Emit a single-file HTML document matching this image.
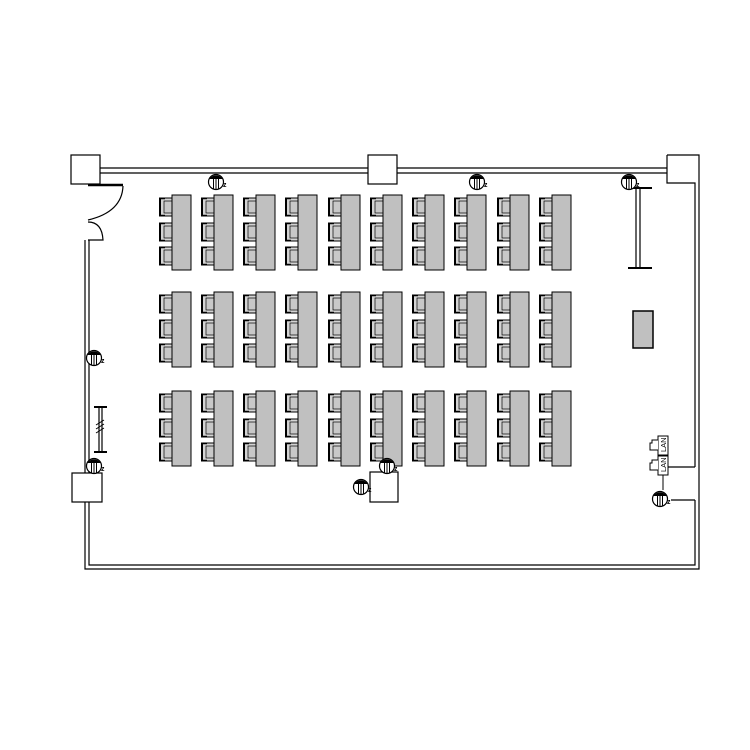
<!DOCTYPE html>
<html><head><meta charset="utf-8"><style>html,body{margin:0;padding:0;background:#fff}svg{display:block}</style></head>
<body>
<svg width="750" height="750" viewBox="0 0 750 750" xmlns="http://www.w3.org/2000/svg">
<defs>
<g id="ch">
<rect x="0.5" y="0" width="12.5" height="18" fill="#d4d4d4" stroke="#000" stroke-width="1"/>
<rect x="0" y="0" width="2" height="18" fill="#000"/>
<line x1="0" y1="0.5" x2="6" y2="0.5" stroke="#000" stroke-width="1.5"/>
<line x1="0" y1="17.5" x2="6" y2="17.5" stroke="#000" stroke-width="1.5"/>
<rect x="5" y="3" width="8" height="12" fill="#c8c8c8" stroke="#000" stroke-width="0.7"/>
</g>
<g id="dk">
<use href="#ch" x="-13" y="3"/>
<use href="#ch" x="-13" y="28"/>
<use href="#ch" x="-13" y="52"/>
<rect x="0" y="0" width="19" height="75" fill="#c0c0c0" stroke="#000" stroke-width="1"/>
</g>
<g id="fx">
<circle cx="0" cy="0" r="7.5" fill="#fff" stroke="#000" stroke-width="1.2"/>
<path d="M-6.5,-3 A7.5,7.5 0 0 1 6.5,-3 Z" fill="#000"/>
<line x1="-2.5" y1="-3" x2="-2.5" y2="6.5" stroke="#000"/>
<line x1="0" y1="-3" x2="0" y2="7.5" stroke="#000"/>
<line x1="2.5" y1="-3" x2="2.5" y2="6.5" stroke="#000"/>
<text x="7" y="5" font-family="Liberation Sans, sans-serif" font-size="7" font-weight="bold">z</text>
</g>
</defs>
<g fill="none" stroke="#000" stroke-width="1.2">
<line x1="100" y1="168" x2="368" y2="168"/><line x1="100" y1="173" x2="368" y2="173"/>
<line x1="397" y1="168" x2="667" y2="168"/><line x1="397" y1="173" x2="667" y2="173"/>
<rect x="71" y="155" width="29" height="29"/>
<rect x="368" y="155" width="29" height="29"/>
<path d="M667,155 H699 V565"/>
<path d="M667,155 V183 H695 V467"/>
<path d="M695,500 V565 H89 V502"/>
<path d="M699,565 V569 H85 V502"/>
<rect x="72" y="473" width="30" height="29"/>
<line x1="85" y1="240" x2="85" y2="473"/><line x1="89" y1="240" x2="89" y2="473"/>
<line x1="88" y1="185" x2="123" y2="185" stroke-width="2.5"/>
<path d="M123,186 Q122,212 88,220"/>
<path d="M88,222 Q102,222 103,240 H88"/>
<line x1="636" y1="188" x2="636" y2="268"/><line x1="640" y1="188" x2="640" y2="268"/>
<line x1="628" y1="188" x2="652" y2="188" stroke-width="2"/>
<line x1="628" y1="268" x2="652" y2="268" stroke-width="2"/>
<line x1="99" y1="407" x2="99" y2="452"/><line x1="102" y1="407" x2="102" y2="452"/>
<line x1="94" y1="407" x2="107" y2="407" stroke-width="2"/><line x1="94" y1="452" x2="107" y2="452" stroke-width="2"/>
<path d="M96,425 L104,420 M96,429 L104,424 M96,433 L104,428" stroke-width="1"/>
<rect x="370" y="472" width="28" height="30"/>
<line x1="668" y1="467" x2="695" y2="467"/>
<line x1="671" y1="500" x2="695" y2="500"/>
</g>
<rect x="633" y="311" width="20" height="37" fill="#c0c0c0" stroke="#000" stroke-width="1.5"/>
<g fill="#fff" stroke="#000" stroke-width="1">
<rect x="658" y="436" width="10" height="19"/>
<path d="M658,440 H652 V443 H650 V450 H658"/>
<rect x="658" y="456" width="10" height="19"/>
<path d="M658,460 H652 V463 H650 V470 H658"/>
<line x1="663" y1="475" x2="663" y2="490"/>
</g>
<text transform="translate(666,452) rotate(-90)" font-family="Liberation Sans, sans-serif" font-size="7.5">LAN</text>
<text transform="translate(666,472) rotate(-90)" font-family="Liberation Sans, sans-serif" font-size="7.5">LAN</text>
<g>
<use href="#dk" x="172" y="195"/><use href="#dk" x="214" y="195"/><use href="#dk" x="256" y="195"/><use href="#dk" x="298" y="195"/><use href="#dk" x="341" y="195"/><use href="#dk" x="383" y="195"/><use href="#dk" x="425" y="195"/><use href="#dk" x="467" y="195"/><use href="#dk" x="510" y="195"/><use href="#dk" x="552" y="195"/>
<use href="#dk" x="172" y="292"/><use href="#dk" x="214" y="292"/><use href="#dk" x="256" y="292"/><use href="#dk" x="298" y="292"/><use href="#dk" x="341" y="292"/><use href="#dk" x="383" y="292"/><use href="#dk" x="425" y="292"/><use href="#dk" x="467" y="292"/><use href="#dk" x="510" y="292"/><use href="#dk" x="552" y="292"/>
<use href="#dk" x="172" y="391"/><use href="#dk" x="214" y="391"/><use href="#dk" x="256" y="391"/><use href="#dk" x="298" y="391"/><use href="#dk" x="341" y="391"/><use href="#dk" x="383" y="391"/><use href="#dk" x="425" y="391"/><use href="#dk" x="467" y="391"/><use href="#dk" x="510" y="391"/><use href="#dk" x="552" y="391"/>
</g>
<use href="#fx" x="216" y="182"/>
<use href="#fx" x="477" y="182"/>
<use href="#fx" x="629" y="182"/>
<use href="#fx" x="94" y="358"/>
<use href="#fx" x="94" y="466"/>
<use href="#fx" x="387" y="466"/>
<use href="#fx" x="361" y="487"/>
<use href="#fx" x="660" y="499"/>
</svg>
</body></html>
